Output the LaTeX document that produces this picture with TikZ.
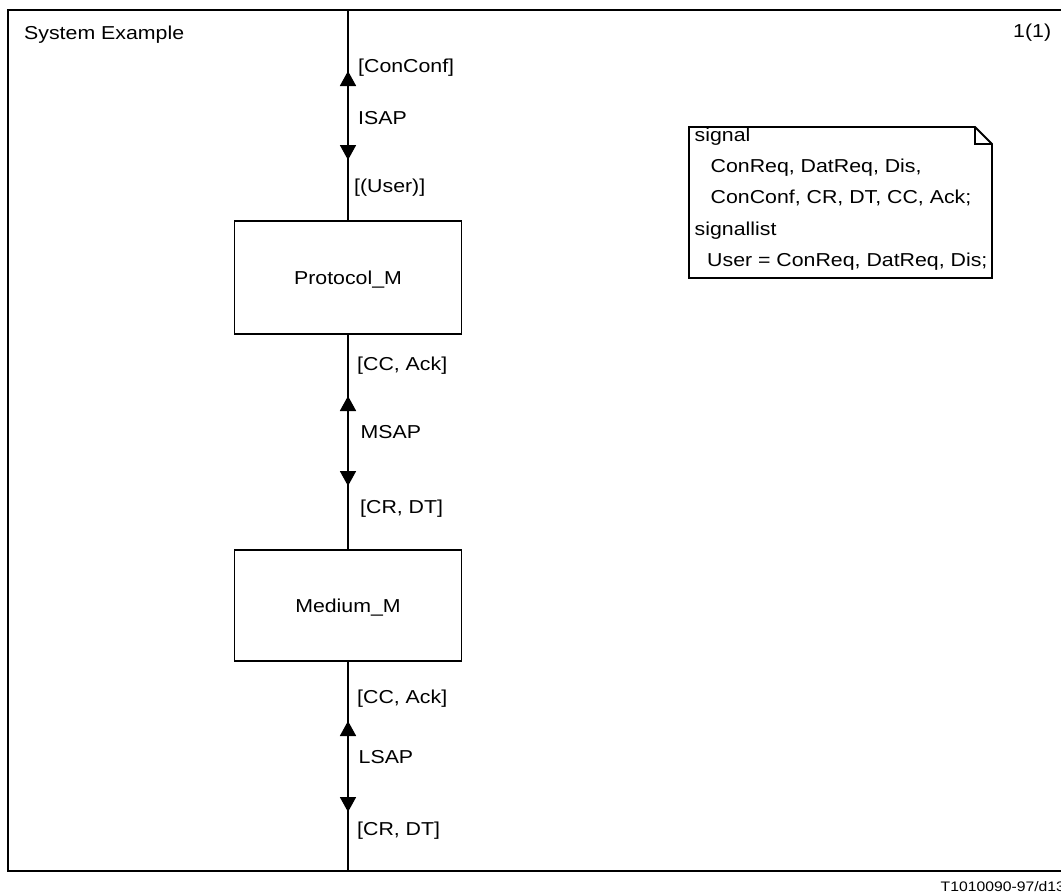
\documentclass[tikz,border=0pt]{standalone}
\usepackage{fontspec}
\setmainfont{Liberation Sans}[FakeStretch=1.14]
\usepackage{tikz}
\usetikzlibrary{arrows.meta}
\usetikzlibrary{positioning}
\tikzstyle{frm}=[draw,line width=1.2pt]
\tikzstyle{blk}=[draw,line width=1.8pt,minimum width=227pt,minimum height=113pt,inner sep=0,text height=13.4pt,text depth=0pt]
\tikzstyle{lbl}=[anchor=base west,inner sep=0]
\tikzstyle{chan}=[draw,line width=1.8pt]
\tikzstyle{sig}=[chan,>={Triangle[length=15pt,width=16pt]},<->]
\newcommand{\sap}[3]{\coordinate (#1u) at (348,#2);\coordinate (#1d) at (348,#3);\draw[sig] (#1u) -- (#1d);}

\begin{document}
\begin{tikzpicture}[x=1pt,y=-1pt,every node/.style={font=\fontsize{18.7}{31}\selectfont}]
  \useasboundingbox (0,0) rectangle (1061,895);

  % frame
  \draw[frm] (1075,10) -- (8,10) -- (8,871) -- (1075,871);
  \node[lbl] (title) at (24,39) {System Example};
  \node[lbl] (page) at (1013,37) {1(1)};
  \node[lbl,font=\fontsize{13.8}{16}\selectfont] (ref) at (940.5,891) {T1010090-97/d13};

  % blocks
  \node[blk] (Protocol) at (348,277.5) {Protocol\_M};
  \node[blk,minimum height=111pt,below=214pt of Protocol] (Medium) {Medium\_M};
  \coordinate (ftop) at (348,10);
  \coordinate (fbot) at (348,871);
  \path[chan] (ftop) -- (Protocol.north)
    (Protocol.south) -- (Medium.north)
    (Medium.south) -- (fbot);

  % channels
  \sap{isap}{71}{160}
  \sap{msap}{396}{486}
  \sap{lsap}{721}{812}
  \node[lbl] (isapo) at (358,72.5) {[ConConf]};
  \node[lbl] (isapn) at (358,124) {ISAP};
  \node[lbl] (isapi) at (354,192) {[(User)]};
  \node[lbl] (msapo) at (357,370) {[CC, Ack]};
  \node[lbl] (msapn) at (360.5,438.5) {MSAP};
  \node[lbl] (msapi) at (360,513) {[CR, DT]};
  \node[lbl] (lsapo) at (357,703) {[CC, Ack]};
  \node[lbl] (lsapn) at (358.5,763.5) {LSAP};
  \node[lbl] (lsapi) at (357,835) {[CR, DT]};

  % declarations
  \draw[chan] (689,127) -- (975,127) -- (992,144) -- (992,278) -- (689,278) -- cycle
    (975,127) -- (975,144) -- (992,144);
  \node[lbl,align=left] (decl) at (694.5,266) {signal\\
    \hspace*{16pt}ConReq, DatReq, Dis,\\
    \hspace*{16pt}ConConf, CR, DT, CC, Ack;\\[1pt]
    signallist\\
    \hspace*{12.5pt}User = ConReq, DatReq, Dis;};
\end{tikzpicture}
\end{document}
